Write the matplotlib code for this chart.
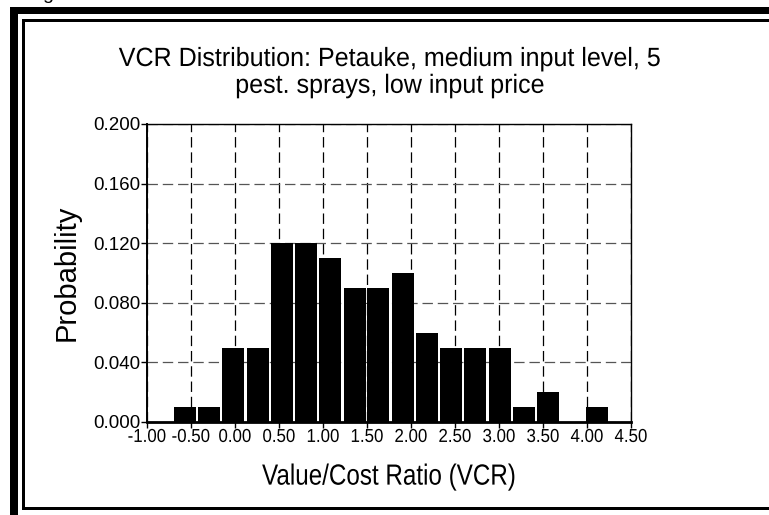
import matplotlib
matplotlib.use("Agg")
import matplotlib.pyplot as plt
from matplotlib import font_manager
from matplotlib.patches import Rectangle
from matplotlib.patheffects import AbstractPathEffect
from matplotlib.transforms import Affine2D

# ---- data ----
bin_centers = [-0.57, -0.29, -0.02, 0.26, 0.53, 0.81, 1.08, 1.36, 1.63,
               1.91, 2.18, 2.46, 2.73, 3.01, 3.28, 3.56, 3.83, 4.11]
probabilities = [0.01, 0.01, 0.05, 0.05, 0.12, 0.12, 0.11, 0.09, 0.09,
                 0.10, 0.06, 0.05, 0.05, 0.05, 0.01, 0.02, 0.00, 0.01]
x_ticks = [-1.0, -0.5, 0.0, 0.5, 1.0, 1.5, 2.0, 2.5, 3.0, 3.5, 4.0, 4.5]
y_ticks = [0.000, 0.040, 0.080, 0.120, 0.160, 0.200]
title = "VCR Distribution: Petauke, medium input level, 5\npest. sprays, low input price"
xlabel = "Value/Cost Ratio (VCR)"
ylabel = "Probability"

avail = {f.name for f in font_manager.fontManager.ttflist}
regular = "Liberation Sans" if "Liberation Sans" in avail else "DejaVu Sans"
plt.rcParams['font.family'] = [regular, 'DejaVu Sans']
plt.rcParams['lines.scale_dashes'] = False


class Condense(AbstractPathEffect):
    """Squeeze text horizontally about its own centre (narrow-font look)."""
    def __init__(self, sx=0.85, sy=1.0):
        super().__init__()
        self.sx, self.sy = sx, sy

    def draw_path(self, renderer, gc, tpath, affine, rgbFace=None):
        bb = tpath.get_extents(affine)
        cx, cy = bb.x0 + bb.width / 2, bb.y0 + bb.height / 2
        a = affine + Affine2D().translate(-cx, -cy).scale(self.sx, self.sy).translate(cx, cy)
        renderer.draw_path(gc, tpath, a, rgbFace)


W, H = 769, 515
fig = plt.figure(figsize=(W / 100, H / 100), dpi=100)


def px(x0, y0, x1, y1):
    return (x0 / W, 1 - y1 / H, (x1 - x0) / W, (y1 - y0) / H)


# frame
for (x0, y0, x1, y1) in [(10, 7, 18, 515), (10, 7, 769, 14),
                         (22, 19, 25, 510), (22, 19, 769, 22), (22, 507, 769, 510)]:
    l, b, w, h = px(x0, y0, x1, y1)
    fig.patches.append(Rectangle((l, b), w, h, transform=fig.transFigure,
                                 facecolor='black', edgecolor='none'))
fig.text(42 / W, 1 + 1 / H, "g", fontsize=14, ha='left', va='baseline')

ax = fig.add_axes(px(147, 124, 631, 422))
ax.bar(bin_centers, probabilities, width=0.25, color='black', edgecolor='none', zorder=3)
ax.set_xlim(-1.0, 4.5)
ax.set_ylim(0, 0.2)
ax.set_xticks(x_ticks)
ax.set_xticklabels([f"{v:.2f}" for v in x_ticks], fontsize=13.5)
for t in ax.get_xticklabels():
    t.set_path_effects([Condense(0.9, 1.0)])
ax.set_yticks(y_ticks)
ax.set_yticklabels([f"{v:.3f}" for v in y_ticks], fontsize=13.5)
ax.tick_params(axis='both', direction='out', length=4, width=1, colors='black', pad=1)

ax.xaxis.grid(True, color='black', linestyle=(0, (7.5, 3.5)), linewidth=0.9, zorder=1)
ax.yaxis.grid(True, color='#555555', linestyle=(0, (7.5, 3.5)), linewidth=0.9, zorder=1)
ax.set_axisbelow(True)

for s in ['top', 'right']:
    ax.spines[s].set_linewidth(1.0)
ax.spines['left'].set_linewidth(1.4)
ax.spines['bottom'].set_linewidth(2.0)

xl = ax.set_xlabel(xlabel, fontsize=21, labelpad=12)
xl.set_path_effects([Condense(0.83, 1.0)])
ax.set_ylabel(ylabel, fontsize=21, labelpad=9)
tt = fig.text(390 / W, 1 - 47 / H, title, ha='center', va='top', fontsize=19, linespacing=1.15)
tt.set_path_effects([Condense(0.95, 1.0)])

fig.savefig("out.png", dpi=100)
